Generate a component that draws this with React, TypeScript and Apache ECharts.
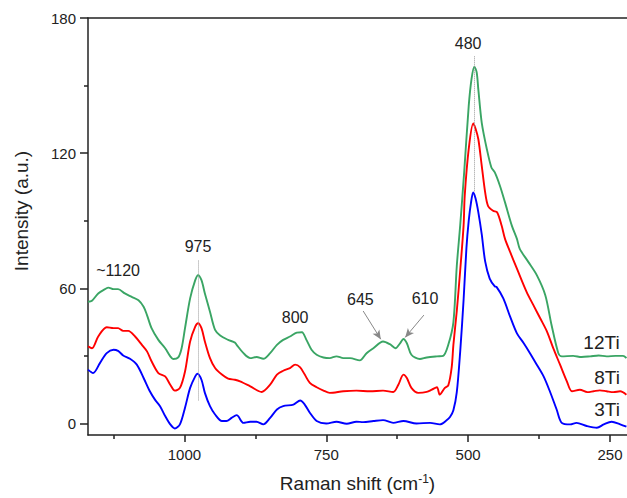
import React, { useEffect, useRef } from "react";
import * as echarts from "echarts";

const FONT = "'Liberation Sans', Arial, sans-serif";

const xMajorTicks = [250, 500, 750, 1000];
const xMinorTicks = [375, 625, 875, 1125];
const yMajorTicks = [0, 60, 120, 180];
const yMinorTicks = [30, 90, 150];

const ti12: [number, number][] = [
  [1170, 54.1], [1163, 54.6], [1152, 57.8], [1140, 59.7], [1134, 60.4], [1125, 59.7], [1117, 59.7], [1105, 57.8],
  [1093, 56.3], [1081, 54.8], [1072, 51.9], [1066, 48.2], [1058, 42.4], [1046, 37.2], [1034, 33.5], [1025, 29.9],
  [1020, 28.7], [1011, 29.4], [1005, 33.5], [999, 42.4], [990, 55.6], [981, 63.7], [976, 65.9], [970, 63.7],
  [964, 57.8], [955, 49.7], [946, 41.6], [937, 39.1], [923, 37.2], [911, 36], [908, 35], [896, 31.3], [884, 29.1],
  [873, 29.6], [861, 28.8], [849, 31.3], [837, 35], [826, 37.2], [814, 38.7], [802, 40.4], [793, 40.6], [785, 37.2],
  [776, 32.8], [767, 30.6], [755, 29.4], [744, 29.1], [732, 29.9], [720, 29.1], [708, 29.1], [691, 28.1], [679, 31.3],
  [667, 33.5], [650, 36.5], [638, 35.3], [628, 33.5], [620, 35.7], [614, 37.6], [608, 35.7], [600, 30.6], [585, 28.7],
  [573, 29.4], [555, 29.9], [544, 30.1], [535, 35], [526, 45], [520, 70], [514, 88], [507, 111.5], [499, 140.9],
  [494, 153], [489, 158.4], [485, 156], [482, 148.2], [476, 133.5], [467, 121.8], [459, 113.7], [453, 111.5],
  [444, 105.6], [435, 98.2], [423, 87.9], [414, 82], [409, 77.6], [394, 71.8], [379, 65.9], [364, 57], [353, 43.8],
  [341, 31.3], [335, 29.9], [315, 30.1], [300, 29.6], [285, 29.9], [270, 30.3], [256, 29.9], [240, 30.1], [227, 30.1],
  [221, 29.1],
];

const ti8: [number, number][] = [
  [1170, 34.3], [1163, 33.5], [1152, 38.7], [1137, 42.8], [1125, 42.4], [1117, 42.4], [1108, 41.2], [1099, 41.2],
  [1087, 38.7], [1075, 35], [1066, 32.1], [1058, 27.7], [1046, 22.5], [1034, 21], [1025, 17.3], [1017, 14.7],
  [1008, 15.9], [999, 23.2], [990, 36.5], [981, 43.1], [976, 44.6], [970, 42.4], [964, 36.5], [955, 29.1], [946, 24.7],
  [934, 21.8], [923, 20], [911, 19.5], [902, 18.8], [884, 16.6], [864, 14.1], [849, 17.3], [837, 21.8], [826, 23.5],
  [814, 24.7], [805, 26.2], [796, 25], [788, 21.8], [779, 18.1], [767, 16.2], [755, 14.7], [744, 13.7], [720, 14.4],
  [697, 14.7], [673, 14.4], [650, 14.7], [632, 14.1], [623, 17.3], [614, 21.8], [608, 20.3], [600, 15.9], [588, 13.7],
  [573, 14.1], [564, 15.1], [555, 16.2], [550, 12.9], [541, 15.9], [535, 17], [529, 25], [526, 35], [520, 50],
  [514, 68], [508, 88], [506, 101.2], [499, 121.8], [491, 133.2], [487, 131], [482, 126.2], [476, 114.4], [470, 102.6],
  [465, 96.7], [456, 94.5], [449, 93.8], [441, 87.9], [435, 82], [426, 76.2], [414, 68.8], [397, 58.5], [385, 52.6],
  [373, 46.8], [361, 40.9], [350, 33.5], [338, 26.2], [326, 18.8], [317, 14.4], [303, 15.1], [290, 14], [279, 14.4],
  [268, 14.8], [256, 14.4], [244, 14], [232, 14.4], [221, 12.9],
];

const ti3: [number, number][] = [
  [1170, 24], [1161, 22.5], [1149, 26.9], [1137, 31.3], [1125, 32.8], [1117, 32.3], [1108, 30.3], [1096, 28.8],
  [1084, 26.2], [1072, 20.3], [1061, 14.4], [1052, 10.7], [1043, 7.8], [1034, 3.4], [1025, -0.3], [1017, -2.1],
  [1008, -0.3], [999, 7.1], [990, 15.9], [981, 21], [977, 22.2], [970, 19.5], [964, 13.7], [955, 7.8], [946, 4.1],
  [934, 1.2], [926, 1.2], [917, 2.6], [908, 3.8], [896, 0.4], [884, 0.9], [873, 0.9], [861, -0.3], [849, 2.6],
  [837, 6.3], [826, 7.8], [808, 8.5], [796, 10.3], [788, 8.5], [779, 4.9], [767, 1.2], [750, 0.1], [732, 0.9],
  [714, 0], [697, 0.9], [685, 0.7], [667, 1.2], [650, 1.6], [632, 0.4], [614, 1.2], [591, 0.1], [567, 0.4],
  [550, -0.3], [538, 1.5], [532, 3], [526, 6], [520, 14], [514, 32], [508, 55], [503, 78], [499, 90], [495, 98],
  [491, 102.6], [487, 100], [482, 93.8], [476, 84], [470, 72], [462, 64.4], [453, 60.9], [450, 60.7], [438, 55.6],
  [426, 47.5], [414, 40.1], [402, 35.7], [391, 31.3], [379, 26.2], [367, 21], [356, 14.4], [344, 6.3], [335, 0.4],
  [320, -0.3], [309, 0.4], [291, -1], [273, -1.8], [261, -0.3], [247, 0.9], [232, -0.3], [221, -1.3],
];

// annotation texts: [label, x (cm-1), y (a.u.), fontSize]
const peakLabels: [string, number, number, number][] = [
  ["~1120", 1117, 67.9, 16],
  ["975", 976, 78.5, 16],
  ["800", 805, 47.2, 16],
  ["645", 690, 55.2, 16],
  ["610", 576, 55.4, 16],
  ["480", 500, 168.5, 16],
  ["12Ti", 265, 36, 19],
  ["8Ti", 255, 20.3, 19],
  ["3Ti", 255, 6.4, 19],
];

// dotted guide lines: [x, yTop, yBottom]
const guideLines: [number, number, number][] = [
  [976, 72.4, 10.1],
  [489, 163, 103],
];

// arrows: [xFrom, yFrom, xTo, yTo]
const arrows: [number, number, number, number][] = [
  [685, 50, 654, 37.5],
  [578, 48.2, 611, 38.3],
];

export default function App() {
  const ref = useRef<HTMLDivElement>(null);
  useEffect(() => {
    document.body.style.margin = "0";
    if (!ref.current) return;
    const chart = echarts.init(ref.current, undefined, { renderer: "svg" });
    const axisColor = "#222";
    const xBase = { type: "value", min: 220, max: 1170, inverse: true, gridIndex: 0, splitLine: { show: false } };
    const yBase = { type: "value", min: -5, max: 180, gridIndex: 0, splitLine: { show: false } };
    const plain = (v: number) => String(v);
    const option: any = {
      animation: false,
      backgroundColor: "#fff",
      grid: { left: 88, right: 0, top: 18, bottom: 61 },
      xAxis: [
        {
          ...xBase,
          position: "bottom",
          axisLine: { show: true, onZero: false, lineStyle: { color: axisColor, width: 1.5 } },
          axisTick: { show: true, inside: false, length: 7, customValues: xMajorTicks, lineStyle: { color: axisColor, width: 1.5 } },
          axisLabel: { show: true, customValues: xMajorTicks, formatter: plain, margin: 12, fontSize: 15, color: axisColor, fontFamily: FONT },
          name: "Raman shift (cm{sup|-1})",
          nameLocation: "middle",
          nameGap: 38,
          nameTextStyle: {
            fontSize: 19,
            color: axisColor,
            fontFamily: FONT,
            rich: { sup: { fontSize: 12, color: axisColor, fontFamily: FONT, padding: [0, 0, 9, 0] } },
          },
        },
        {
          ...xBase,
          position: "bottom",
          axisLine: { show: false, onZero: false },
          axisTick: { show: true, inside: false, length: 4, customValues: xMinorTicks, lineStyle: { color: axisColor, width: 1.5 } },
          axisLabel: { show: false },
        },
        {
          ...xBase,
          position: "top",
          axisLine: { show: true, onZero: false, lineStyle: { color: axisColor, width: 1.5 } },
          axisTick: { show: false },
          axisLabel: { show: false },
        },
      ],
      yAxis: [
        {
          ...yBase,
          position: "left",
          axisLine: { show: true, onZero: false, lineStyle: { color: axisColor, width: 1.5 } },
          axisTick: { show: true, inside: false, length: 8, customValues: yMajorTicks, lineStyle: { color: axisColor, width: 1.5 } },
          axisLabel: { show: true, customValues: yMajorTicks, formatter: plain, margin: 12, fontSize: 15, color: axisColor, fontFamily: FONT },
        },
        {
          ...yBase,
          position: "left",
          axisLine: { show: false, onZero: false },
          axisTick: { show: true, inside: false, length: 4, customValues: yMinorTicks, lineStyle: { color: axisColor, width: 1.5 } },
          axisLabel: { show: false },
        },
      ],
      graphic: [
        {
          type: "text",
          x: 21,
          y: 211,
          rotation: Math.PI / 2,
          style: { text: "Intensity (a.u.)", fontSize: 19, fontFamily: FONT, fill: axisColor, align: "center", verticalAlign: "middle" },
        },
      ],
      series: [
        {
          name: "3Ti",
          type: "line",
          xAxisIndex: 0,
          yAxisIndex: 0,
          data: ti3,
          showSymbol: false,
          symbol: "none",
          smooth: 0.3,
          lineStyle: { color: "#0000ff", width: 1.9 },
          z: 3,
        },
        {
          name: "8Ti",
          type: "line",
          xAxisIndex: 0,
          yAxisIndex: 0,
          data: ti8,
          showSymbol: false,
          symbol: "none",
          smooth: 0.3,
          lineStyle: { color: "#ff0000", width: 1.9 },
          z: 3,
        },
        {
          name: "12Ti",
          type: "line",
          xAxisIndex: 0,
          yAxisIndex: 0,
          data: ti12,
          showSymbol: false,
          symbol: "none",
          smooth: 0.3,
          lineStyle: { color: "#3aa564", width: 1.9 },
          z: 3,
          markLine: {
            silent: true,
            animation: false,
            label: { show: false },
            data: [
              ...guideLines.map(([x, y1, y2]) => [
                { coord: [x, y1], symbol: "none", lineStyle: { type: "dotted", color: "#999", width: 1 } },
                { coord: [x, y2], symbol: "none" },
              ]),
              ...arrows.map(([x1, y1, x2, y2]) => [
                { coord: [x1, y1], symbol: "none", lineStyle: { type: "solid", color: "#888", width: 1 } },
                { coord: [x2, y2], symbol: "arrow", symbolSize: [6, 9] },
              ]),
            ],
          },
          markPoint: {
            silent: true,
            animation: false,
            symbol: "circle",
            symbolSize: 0,
            itemStyle: { color: "transparent" },
            data: peakLabels.map(([t, x, y, fs]) => ({
              coord: [x, y],
              symbolSize: 0,
              itemStyle: { color: "transparent" },
              label: {
                show: true,
                position: "inside",
                formatter: t,
                color: axisColor,
                fontSize: fs,
                fontFamily: FONT,
              },
            })),
          },
        },
      ],
    };
    chart.setOption(option);
    return () => chart.dispose();
  }, []);
  return <div ref={ref} style={{ width: 627, height: 498 }} />;
}
